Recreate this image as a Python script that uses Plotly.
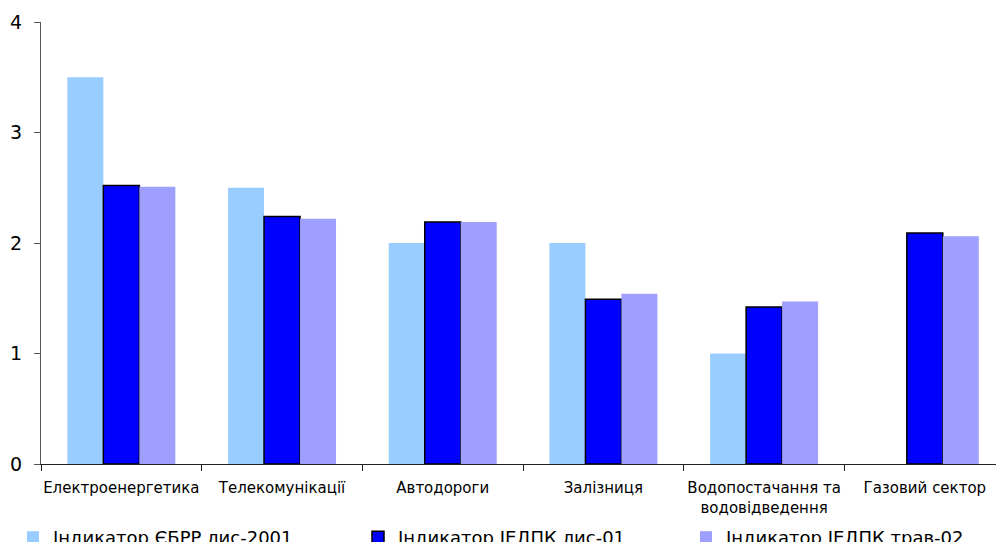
import plotly.graph_objects as go

# Sectors and indicator values
categories = [
    "Електроенергетика",
    "Телекомунікації",
    "Автодороги",
    "Залізниця",
    "Водопостачання та<br>водовідведення",
    "Газовий сектор",
]
ebrd_2001 = [3.5, 2.5, 2.0, 2.0, 1.0, None]
iedpk_nov01 = [2.52, 2.24, 2.19, 1.49, 1.42, 2.09]
iedpk_may02 = [2.51, 2.22, 2.19, 1.54, 1.47, 2.06]
series_names = [
    "Індикатор ЄБРР лис-2001",
    "Індикатор ІЕДПК лис-01",
    "Індикатор ІЕДПК трав-02",
]
y_ticks = [0, 1, 2, 3, 4]

FONT = "DejaVu Sans"
W, H = 996, 542

fig = go.Figure()
fig.add_trace(go.Bar(
    x=categories, y=ebrd_2001, name=series_names[0],
    marker=dict(color="#99CCFF", line=dict(width=0)),
    legend="legend", showlegend=True,
))
fig.add_trace(go.Bar(
    x=categories, y=iedpk_nov01, name=series_names[1],
    marker=dict(color="#0000FF", line=dict(color="#000000", width=1.5)),
    legend="legend2", showlegend=True,
))
fig.add_trace(go.Bar(
    x=categories, y=iedpk_may02, name=series_names[2],
    marker=dict(color="#9F9FFF", line=dict(width=0)),
    legend="legend3", showlegend=True,
))

legend_common = dict(
    xref="container", yref="container", xanchor="left", yanchor="top",
    font=dict(family=FONT, size=18, color="#000000"),
    bgcolor="rgba(0,0,0,0)", borderwidth=0,
)
legend_left_px = [13, 358, 686]
legend_top_px = 519

fig.update_layout(
    width=W, height=H,
    margin=dict(l=41, r=0, t=22, b=78, autoexpand=False),
    paper_bgcolor="white", plot_bgcolor="white",
    barmode="group", bargap=0.328, bargroupgap=0,
    font=dict(family=FONT, color="#000000"),
    showlegend=True,
    legend=dict(x=legend_left_px[0] / W, y=1 - legend_top_px / H, **legend_common),
    legend2=dict(x=legend_left_px[1] / W, y=1 - legend_top_px / H, **legend_common),
    legend3=dict(x=legend_left_px[2] / W, y=1 - legend_top_px / H, **legend_common),
    xaxis=dict(
        type="category",
        range=[-0.5, 5.443],
        showline=True, linecolor="#222222", linewidth=1,
        ticks="outside", tickson="boundaries", ticklen=6, tickcolor="#222222",
        tickfont=dict(family=FONT, size=15, color="#000000"),
        tickangle=0,
        showgrid=False, zeroline=False,
        ticklabelstandoff=10,
    ),
    yaxis=dict(
        range=[0, 4],
        tickvals=y_ticks,
        showline=True, linecolor="#555555", linewidth=1,
        ticks="outside", ticklen=6, tickcolor="#555555",
        tickfont=dict(family=FONT, size=19, color="#000000"),
        showgrid=False, zeroline=False,
        ticklabelstandoff=8,
    ),
)

fig.write_html("out.html")
